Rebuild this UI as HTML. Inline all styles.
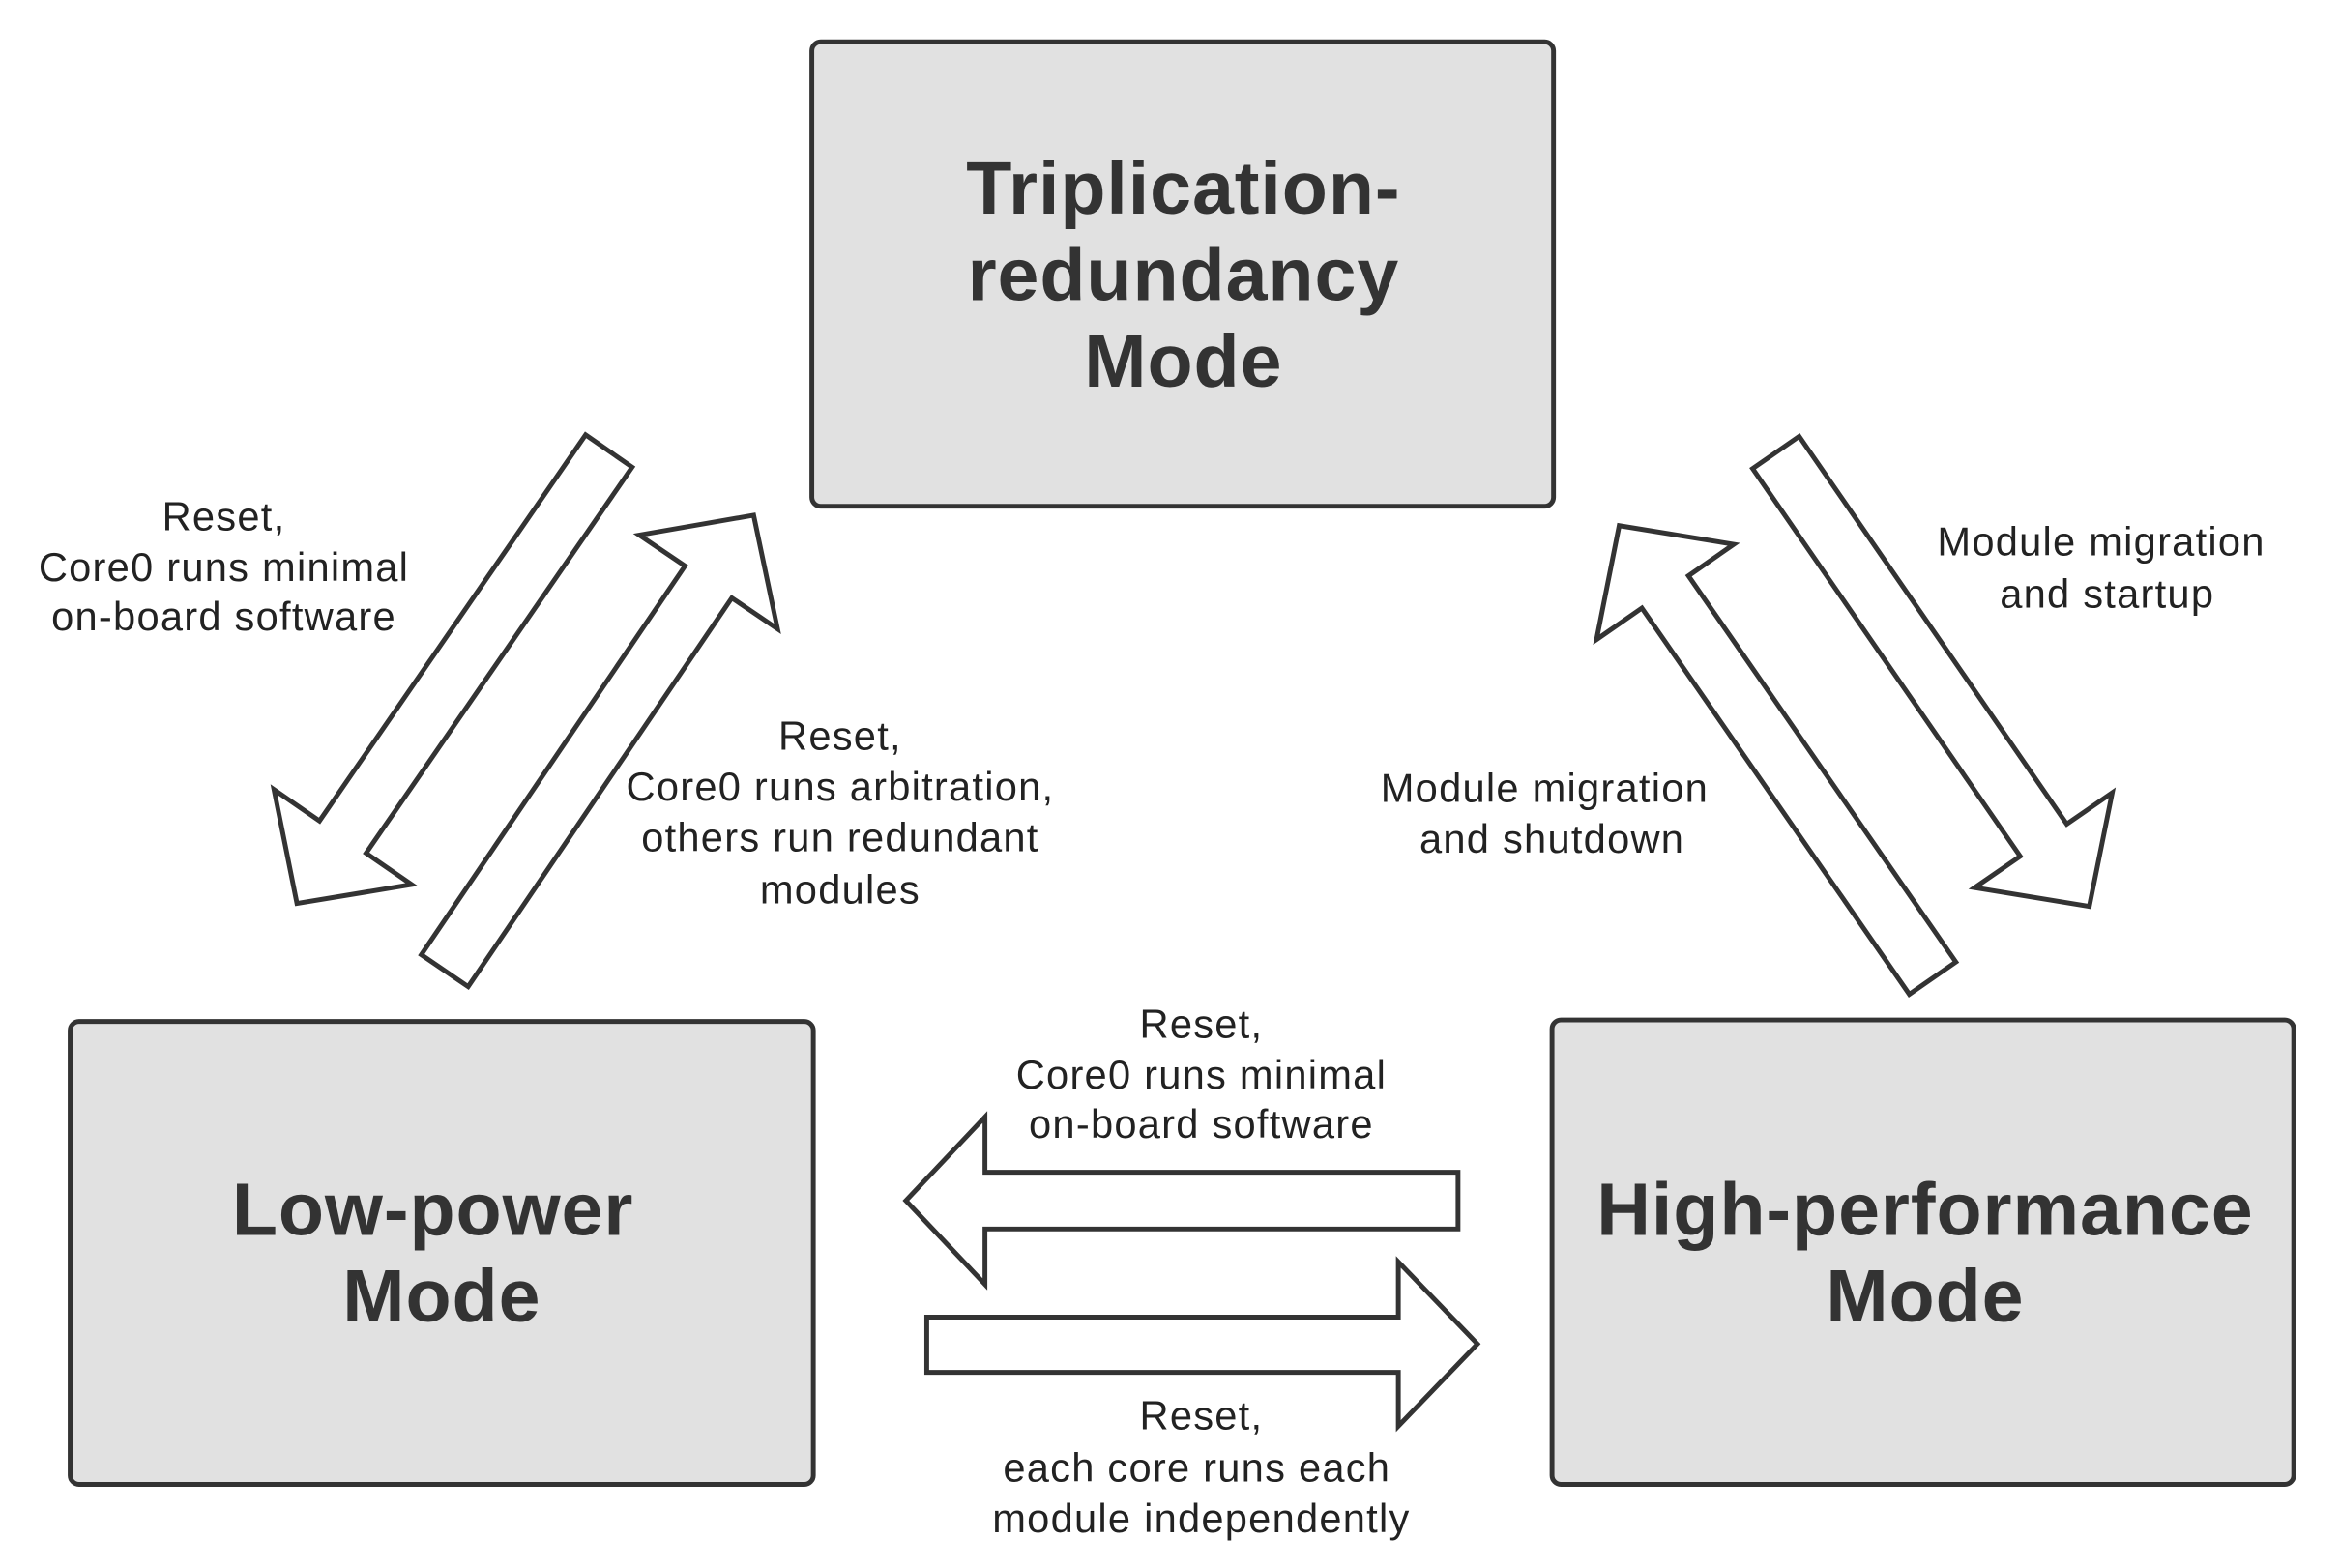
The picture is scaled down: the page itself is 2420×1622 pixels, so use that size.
<!DOCTYPE html>
<html><head><meta charset="utf-8"><style>
html,body{margin:0;padding:0;background:#fff;}
svg{display:block;}
.box{fill:#e1e1e1;stroke:#333;stroke-width:3.2;}
.ar{fill:#fff;stroke:#333;stroke-width:3.2;stroke-linejoin:miter;}
.t{font-family:"Liberation Sans",sans-serif;font-weight:bold;font-size:50px;fill:#333;text-anchor:middle;letter-spacing:0.6px;}
.l{font-family:"Liberation Sans",sans-serif;font-size:27px;fill:#222;text-anchor:middle;letter-spacing:0.8px;}
</style></head><body>
<svg width="2420" height="1622" viewBox="0 0 1568 1050" preserveAspectRatio="none">
<rect class="box" x="544" y="28" width="497" height="311" rx="6"/>
<rect class="box" x="47" y="684" width="498" height="310" rx="6"/>
<rect class="box" x="1040" y="683" width="497" height="311" rx="6"/>
<text class="t" x="793" y="143">Triplication-</text>
<text class="t" x="793" y="201">redundancy</text>
<text class="t" x="793" y="259">Mode</text>
<text class="t" x="290" y="827">Low-power</text>
<text class="t" x="296" y="885">Mode</text>
<text class="t" x="1290" y="827">High-performance</text>
<text class="t" x="1290" y="885">Mode</text>

<polygon class="ar" points="423.6,312.8 245.3,571.3 275.8,592.3 199,605 183.6,528.7 214.1,549.7 392.4,291.2"/>
<polygon class="ar" points="313.7,660.7 490.4,400.4 521,421.1 505,345 428.4,358.3 459,379 282.3,639.3"/>
<polygon class="ar" points="1174.4,313.8 1353.7,573.4 1323.2,594.4 1400,607 1415.4,530.8 1384.9,551.8 1205.6,292.2"/>
<polygon class="ar" points="1310.6,644.2 1131.4,385.6 1161.8,364.5 1085,352 1069.8,428.3 1100.2,407.2 1279.4,665.8"/>
<polygon class="ar" points="977,785 660,785 660,748 607,804 660,860 660,823 977,823"/>
<polygon class="ar" points="621,882 937,882 937,845 990,900 937,955 937,919 621,919"/>

<text class="l" x="150" y="355">Reset,</text>
<text class="l" x="150" y="389">Core0 runs minimal</text>
<text class="l" x="150" y="422">on-board software</text>
<text class="l" x="563" y="502">Reset,</text>
<text class="l" x="563" y="536">Core0 runs arbitration,</text>
<text class="l" x="563" y="570">others run redundant</text>
<text class="l" x="563" y="605">modules</text>
<text class="l" x="1408" y="372">Module migration</text>
<text class="l" x="1412" y="407">and startup</text>
<text class="l" x="1035" y="537">Module migration</text>
<text class="l" x="1040" y="571">and shutdown</text>
<text class="l" x="805" y="695">Reset,</text>
<text class="l" x="805" y="729">Core0 runs minimal</text>
<text class="l" x="805" y="762">on-board software</text>
<text class="l" x="805" y="957">Reset,</text>
<text class="l" x="802" y="992">each core runs each</text>
<text class="l" x="805" y="1026">module independently</text>
</svg>
</body></html>
